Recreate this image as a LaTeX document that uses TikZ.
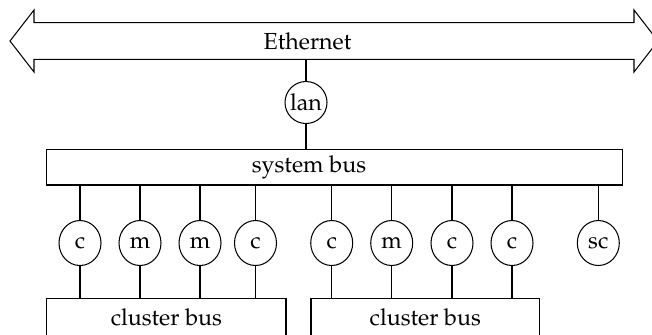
\documentclass[tikz,border=0pt]{standalone}
\usepackage[T1]{fontenc}
\renewcommand{\rmdefault}{ppl}
\usetikzlibrary{shapes.geometric}
\begin{document}
\begin{tikzpicture}[x=0.431pt,y=-0.431pt,
  line width=0.45pt,
  lanunit/.style={draw,circle,inner sep=0pt,minimum size=42*0.431pt,font=\fontsize{10}{12}\selectfont},
  unit/.style={draw,ellipse,inner sep=0pt,minimum width=42*0.431pt,minimum height=45*0.431pt,font=\fontsize{10}{12}\selectfont},
  busbox/.style={draw,rectangle,inner sep=0pt,font=\fontsize{10}{12}\selectfont},
  lbl/.style={inner sep=0pt,font=\fontsize{10}{12}\selectfont},
  conn/.style={draw}]
\useasboundingbox (0,0) rectangle (652,334);
% Ethernet double arrow
\draw (10,41) -- (34,10) -- (34,22.7) -- (634,22.7) -- (634,10) -- (658,41)
  -- (634,72) -- (634,59.3) -- (34,59.3) -- (34,72) -- cycle;
\node[lbl,minimum width=600*0.431pt,minimum height=36.6*0.431pt] (eth) at (334,41) {};
\node[lbl] (ethtxt) at (307.5,41) {Ethernet};
% lan
\node[lanunit] (lan) at (306,102.5) {lan};
% system bus
\node[busbox,minimum width=575.6*0.431pt,minimum height=35.5*0.431pt] (sys) at (334.5,167.25) {};
\node[lbl] (systxt) at (309,167.25) {system bus};
% cluster buses
\node[busbox,minimum width=239.3*0.431pt,minimum height=38*0.431pt] (cb1) at (166.35,317.3) {cluster bus};
\node[busbox,minimum width=228.6*0.431pt,minimum height=38*0.431pt] (cb2) at (425.3,317.3) {cluster bus};
% units
\node[unit] (u1) at (80,243) {c};
\node[unit] (u2) at (140,243) {m};
\node[unit] (u3) at (200,243) {m};
\node[unit] (u4) at (255.5,243) {c};
\node[unit] (u5) at (331.7,243) {c};
\node[unit] (u6) at (391.7,243) {m};
\node[unit] (u7) at (452,243) {c};
\node[unit] (u8) at (512,243) {c};
\node[unit] (sc) at (598.3,243) {sc};
% connectors
\draw[conn] (lan) -- (lan |- eth.south);
\draw[conn] (lan) -- (lan |- sys.north);
\foreach \n in {u1,u2,u3,u4,u5,u6,u7,u8,sc} {
  \draw[conn] (\n) -- (\n |- sys.south);
}
\foreach \n in {u1,u2,u3,u4} {
  \draw[conn] (\n) -- (\n |- cb1.north);
}
\foreach \n in {u5,u6,u7,u8} {
  \draw[conn] (\n) -- (\n |- cb2.north);
}
\end{tikzpicture}
\end{document}
